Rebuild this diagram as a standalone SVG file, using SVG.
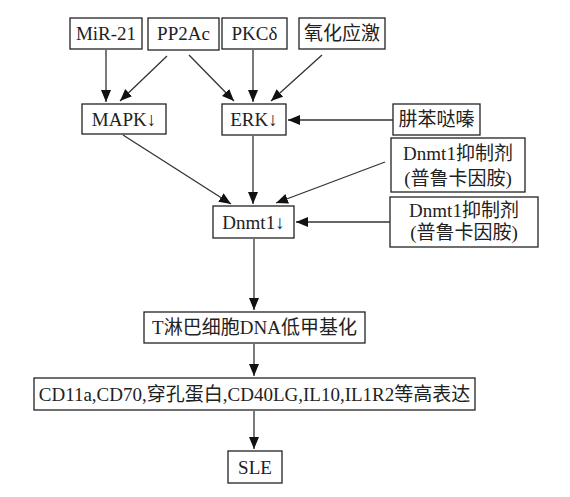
<svg xmlns="http://www.w3.org/2000/svg" width="570" height="497" viewBox="0 0 570 497">
<style>
.box{fill:#fff;stroke:#222;stroke-width:1.3}
.t{font-family:"Liberation Serif","Noto Sans CJK SC",serif;font-size:19px;fill:#222;text-anchor:middle}
.c line{stroke:#333;stroke-width:1.3;marker-end:url(#ah)}
</style>
<defs>
<marker id="ah" markerUnits="userSpaceOnUse" markerWidth="14" markerHeight="12" refX="12" refY="5" orient="auto">
<path d="M0,0 L12,5 L0,10 z" fill="#111"/>
</marker>
</defs>
<rect width="570" height="497" fill="#fff"/>
<g id="mir21"><rect class="box" x="70" y="18" width="72" height="31"/><text class="t" x="106" y="40">MiR-21</text></g>
<g id="pp2ac"><rect class="box" x="148" y="18" width="71" height="32"/><text class="t" x="183.5" y="40">PP2Ac</text></g>
<g id="pkcd"><rect class="box" x="222" y="18" width="65" height="31"/><text class="t" x="254.5" y="40">PKCδ</text></g>
<g id="oxid"><rect class="box" x="299" y="18" width="86" height="31"/><text class="t" x="342" y="40">氧化应激</text></g>
<g id="mapk"><rect class="box" x="82" y="104" width="84" height="30"/><text class="t" x="124" y="126">MAPK↓</text></g>
<g id="erk"><rect class="box" x="222" y="104" width="64" height="31"/><text class="t" x="254" y="126">ERK↓</text></g>
<g id="hydralazine"><rect class="box" x="393" y="104" width="87" height="31"/><text class="t" x="436.5" y="126">肼苯哒嗪</text></g>
<g id="inhib1"><rect class="box" x="391" y="138" width="134" height="54"/><text class="t" x="458" y="159.5">Dnmt1抑制剂</text><text class="t" x="458" y="184.5">(普鲁卡因胺)</text></g>
<g id="inhib2"><rect class="box" x="390" y="197" width="148" height="50"/><text class="t" x="464" y="216.5">Dnmt1抑制剂</text><text class="t" x="464" y="238.5">(普鲁卡因胺)</text></g>
<g id="dnmt1"><rect class="box" x="213" y="206" width="81" height="32"/><text class="t" x="253.5" y="228.5">Dnmt1↓</text></g>
<g id="hypometh"><rect class="box" x="144" y="312" width="221" height="31"/><text class="t" x="254.5" y="334">T淋巴细胞DNA低甲基化</text></g>
<g id="express"><rect class="box" x="34" y="378" width="441" height="32"/><text class="t" x="254.5" y="400.5">CD11a,CD70,穿孔蛋白,CD40LG,IL10,IL1R2等高表达</text></g>
<g id="sle"><rect class="box" x="228" y="451" width="54" height="32"/><text class="t" x="255" y="473.5">SLE</text></g>
<g id="connectors" class="c">
<line x1="106" y1="50" x2="106" y2="102"/>
<line x1="167" y1="56" x2="120" y2="101"/>
<line x1="189" y1="55" x2="234" y2="101"/>
<line x1="253" y1="50" x2="253" y2="102"/>
<line x1="322" y1="55" x2="271" y2="101"/>
<line x1="393" y1="120" x2="288" y2="120"/>
<line x1="123" y1="135" x2="231" y2="204"/>
<line x1="253" y1="136" x2="253" y2="204"/>
<line x1="385" y1="162" x2="276" y2="203"/>
<line x1="390" y1="222" x2="296" y2="222"/>
<line x1="254" y1="239" x2="254" y2="310"/>
<line x1="254" y1="344" x2="254" y2="376"/>
<line x1="254" y1="411" x2="254" y2="449"/>
</g>
</svg>
